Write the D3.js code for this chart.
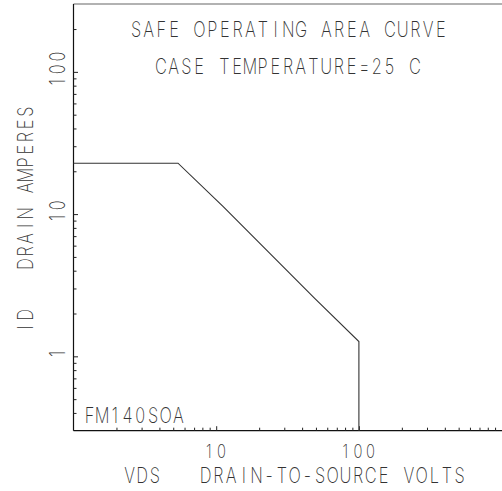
<!DOCTYPE html>
<html>
<head>
<meta charset="utf-8">
<script src="https://cdn.jsdelivr.net/npm/d3@7"></script>
<style>
  html, body { margin: 0; padding: 0; background: #fff; }
  svg { display: block; }
  text { font-family: "Inter", "DejaVu Sans", sans-serif; font-weight: 200; fill: #333; }
</style>
</head>
<body>
<svg id="chart" width="502" height="491"></svg>
<script>
// ---- data ----
const soaVolts = [1, 5.4, 11.2, 49, 100, 100];
const soaAmps  = [22.8, 22.8, 11.3, 2.56, 1.27, 0.3];
const xDomain = [1, 1000];
const yDomain = [0.3, 300];
const xMajorTicks = [10, 100];
const xTickLabels = ["10", "100"];
const yMajorTicks = [1, 10, 100];
const yTickLabels = ["1", "10", "100"];
const titleLines = ["SAFE OPERATING AREA CURVE", "CASE TEMPERATURE=25 C"];
const xTitle = "VDS   DRAIN-TO-SOURCE VOLTS";
const yTitle = "ID   DRAIN AMPERES";
const partLabel = "FM140SOA";

// ---- layout ----
const svg = d3.select("#chart");
const mLeft = 73.5, mRight = 501.6, mTop = 4, mBottom = 430.7;
const PITCH = 12.7, SX = 0.78, FS = 21;

const x = d3.scaleLog().domain(xDomain).range([mLeft, mRight]);
const y = d3.scaleLog().domain(yDomain).range([mBottom, mTop]);

// monospaced, plotter-style text: each character centred in a fixed cell
function monoText(str, cx, cy, opts = {}) {
  const n = str.length;
  let start = 0;
  if (opts.anchor === "middle") start = -(n - 1) * PITCH / 2;
  const xs = d3.range(n).map(i => ((start + i * PITCH) / SX).toFixed(2)).join(" ");
  const rot = opts.rotate ? ` rotate(${opts.rotate})` : "";
  svg.append("text")
    .attr("transform", `translate(${cx},${cy})${rot} scale(${SX},1)`)
    .attr("x", xs)
    .attr("y", 0)
    .attr("text-anchor", "middle")
    .attr("font-size", opts.size || FS)
    .style("white-space", "pre")
    .text(str);
}

// top border
svg.append("line")
  .attr("x1", mLeft).attr("x2", 502).attr("y1", mTop).attr("y2", mTop)
  .attr("stroke", "#666").attr("stroke-width", 1.2);

// x axis
const xTicksAll = x.ticks().filter(v => v > xDomain[0] && v < xDomain[1]);
const xAxis = d3.axisBottom(x).tickValues(xTicksAll).tickSizeOuter(0).tickSizeInner(0)
  .tickFormat(() => "");
const gx = svg.append("g").attr("transform", `translate(0,${mBottom})`).call(xAxis);
gx.select(".domain").attr("stroke", "#111").attr("stroke-width", 1.2)
  .attr("d", `M${mLeft},0H502`);
gx.selectAll(".tick line")
  .attr("stroke", "#222")
  .attr("y2", d => xMajorTicks.includes(d) ? -4.5 : -3);
gx.selectAll(".tick text").remove();
xMajorTicks.forEach((v, i) => {
  monoText(xTickLabels[i], x(v) - 1, 458, { anchor: "middle", size: 19 });
});

// y axis
const yTicksAll = y.ticks().filter(v => v > yDomain[0] * 1.01 && v < yDomain[1] * 0.99);
const yAxis = d3.axisLeft(y).tickValues(yTicksAll).tickSizeOuter(0).tickSizeInner(0)
  .tickFormat(() => "");
const gy = svg.append("g").attr("transform", `translate(${mLeft},0)`).call(yAxis);
gy.select(".domain").attr("stroke", "#111").attr("stroke-width", 1.2)
  .attr("d", `M0,${mTop}V${mBottom}`);
gy.selectAll(".tick line")
  .attr("stroke", "#222")
  .attr("x2", d => yMajorTicks.includes(d) ? 4.5 : 3);
gy.selectAll(".tick text").remove();
yMajorTicks.forEach((v, i) => {
  monoText(yTickLabels[i], 65, y(v) - 2.5, { anchor: "middle", rotate: -90, size: 21 });
});

// curve
const line = d3.line().x(d => x(d[0])).y(d => y(d[1]));
svg.append("path")
  .datum(soaVolts.map((v, i) => [v, soaAmps[i]]))
  .attr("d", line)
  .attr("fill", "none")
  .attr("stroke", "#333")
  .attr("stroke-width", 1.1);

// titles
monoText(titleLines[0], 136, 36.5);
monoText(titleLines[1], 161, 74);

// axis titles
monoText(xTitle, 129.5, 483);
monoText(yTitle, 33, 327.5, { rotate: -90 });

// part label
monoText(partLabel, 89.5, 423);
</script>
</body>
</html>
